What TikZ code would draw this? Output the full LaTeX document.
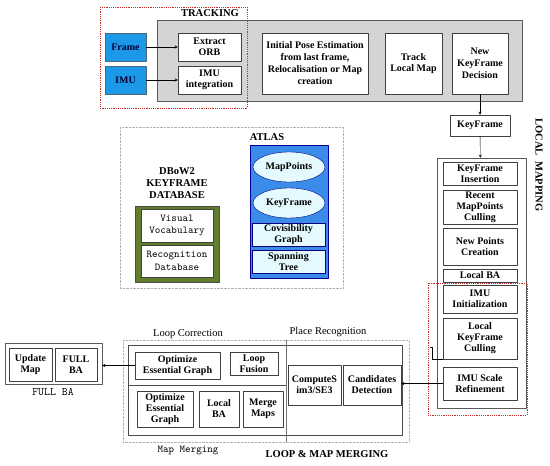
\documentclass[tikz,border=0pt]{standalone}
\usepackage{fontspec}
\setmainfont{Liberation Serif}
\usetikzlibrary{shapes.geometric}
\definecolor{trackgrey}{RGB}{212,212,212}
\definecolor{frameblue}{RGB}{28,152,232}
\definecolor{atlasblue}{RGB}{58,140,232}
\definecolor{mappale}{RGB}{228,250,255}
\definecolor{dbgreen}{RGB}{96,126,44}
\definecolor{dotred}{RGB}{205,45,45}
\tikzset{
  blk/.style={draw=black!75, fill=white, align=center, inner sep=0.5pt,
    font=\fontsize{10}{11}\selectfont\bfseries},
  inputblk/.style={blk, fill=frameblue, draw=black!60!cyan, text=black!80!blue},
  mapell/.style={ellipse, draw=blue!50!black, fill=mappale, inner sep=0pt,
    font=\fontsize{10}{11}\selectfont\bfseries},
  monoblk/.style={blk, font=\fontsize{10.5}{12.5}\selectfont\ttfamily},
  title/.style={font=\fontsize{10.5}{12}\selectfont\bfseries, align=center},
  caption/.style={font=\fontsize{10.5}{12}\selectfont},
  monocap/.style={font=\fontsize{10.5}{12}\selectfont\ttfamily},
  reddots/.style={draw=dotred, line width=1pt, dash pattern=on 1.2pt off 1pt},
  greydots/.style={draw=black!30, densely dotted},
}
\begin{document}
\begin{tikzpicture}[x=1pt, y=-1pt, >=stealth, line join=round]
\useasboundingbox (0,0) rectangle (550,466);

% tracking
\draw[draw=black!65, fill=trackgrey] (157,20) rectangle (522,101);
\draw[reddots] (100,7) rectangle (247,108);
\node[title] (track) at (210,13) {TRACKING};
\node[inputblk, minimum width=41, minimum height=28] (frame) at (125.5,47) {Frame};
\node[inputblk, minimum width=41, minimum height=28] (imu) at (125.5,80) {IMU};
\node[blk, minimum width=63, minimum height=28] (orb) at (209.5,47) {Extract\\ORB};
\node[blk, minimum width=63, minimum height=28] (imuint) at (209.5,80) {IMU\\integration};
\node[blk, minimum width=106, minimum height=61, font=\fontsize{10}{12}\selectfont\bfseries] (pose) at (315,63.5)
  {Initial Pose Estimation\\from last frame,\\Relocalisation or Map\\creation};
\node[blk, minimum width=57, minimum height=61] (tlm) at (413.5,63.5) {Track\\Local Map};
\node[blk, minimum width=56, minimum height=61, font=\fontsize{10}{12}\selectfont\bfseries] (nkd) at (480,63.5) {New\\KeyFrame\\Decision};
\draw[->] (frame) -- (orb);
\draw[->] (imu) -- (imuint);

% local mapping
\node[blk, minimum width=60, minimum height=21] (kf) at (480,125.5) {KeyFrame};
\node[draw=black!65, fill=white, minimum width=89, minimum height=250] (lm) at (481.5,283) {};
\draw[reddots] (428,283) rectangle (527,415);
\node[blk, minimum width=74, minimum height=23] (kfi) at (480,173.5) {KeyFrame\\Insertion};
\node[blk, minimum width=74, minimum height=34] (rmc) at (480,207) {Recent\\MapPoints\\Culling};
\node[blk, minimum width=74, minimum height=37] (npc) at (480,246.5) {New Points\\Creation};
\node[blk, minimum width=74, minimum height=13] (lba) at (480,275.5) {Local BA};
\node[blk, minimum width=74, minimum height=28] (imuinit) at (480,299) {IMU\\Initialization};
\node[blk, minimum width=74, minimum height=41] (lkc) at (480,338.5) {Local\\KeyFrame\\Culling};
\node[blk, minimum width=74, minimum height=33] (isr) at (480,383.5) {IMU Scale\\Refinement};
\node[title, rotate=-90] (lmtitle) at (539,165) {LOCAL\ \ MAPPING};
\draw[->] (nkd) -- (kf);
\draw[->] (kf) -- (lm);
\coordinate (stub) at (430,347);
\draw (stub) -- ++(2,0) |- (lkc.south west);

% atlas
\draw[greydots] (120,127) rectangle (343,288);
\node[title] (atlastitle) at (267,137) {ATLAS};
\draw[draw=blue!60!black, fill=atlasblue] (250,145) rectangle (328,278);
\node[mapell, minimum width=72, minimum height=30] (mp) at (289,167) {MapPoints};
\node[mapell, minimum width=72, minimum height=30] (kfe) at (289,203) {KeyFrame};
\node[blk, fill=mappale, draw=blue!50!black, minimum width=73, minimum height=23] (cov) at (288.5,234.5) {Covisibility\\Graph};
\node[blk, fill=mappale, draw=blue!50!black, minimum width=73, minimum height=23] (span) at (288.5,261.5) {Spanning\\Tree};
\node[title] (dbtitle) at (177,183) {DBoW2\\KEYFRAME\\DATABASE};
\draw[draw=black!70, fill=dbgreen] (135,206) rectangle (219,282);
\node[monoblk, minimum width=72, minimum height=33] (voc) at (177,225.5) {Visual\\Vocabulary};
\node[monoblk, minimum width=72, minimum height=32] (recdb) at (177,261) {Recognition\\Database};

% loop & map merging
\draw[greydots] (123,340) rectangle (409,442);
\draw[draw=black!70] (128,345) rectangle (402,435);
\draw[draw=black!70] (128,385) -- (286,385);
\draw[draw=black!55] (286,340) -- (286,442);
\node[caption] (lctitle) at (188,334) {Loop Correction};
\node[caption] (prtitle) at (328,332) {Place Recognition};
\node[monocap] (mmtitle) at (188,450) {Map Merging};
\node[title] (lmmtitle) at (327,454) {LOOP \& MAP MERGING};
\node[blk, minimum width=85, minimum height=27] (oeg) at (177.5,365.5) {Optimize\\Essential Graph};
\node[blk, minimum width=48, minimum height=23] (lf) at (254,363.5) {Loop\\Fusion};
\node[blk, minimum width=56, minimum height=36] (oegm) at (165,409) {Optimize\\Essential\\Graph};
\node[blk, minimum width=40, minimum height=36] (lbam) at (219,409) {Local\\BA};
\node[blk, minimum width=40, minimum height=36] (mm) at (263,409) {Merge\\Maps};
\node[blk, minimum width=53, minimum height=40] (csim) at (314.5,385) {ComputeS\\im3/SE3};
\node[blk, minimum width=58, minimum height=40] (cand) at (372,385) {Candidates\\Detection};
\draw[->] (isr.west) -- (isr.west -| cand.east);

% full BA
\node[draw=black!65, fill=white, minimum width=97, minimum height=41] (fullba) at (53.5,363.5) {};
\node[blk, minimum width=43, minimum height=33] (um) at (30.5,364.5) {Update\\Map};
\node[blk, minimum width=42, minimum height=33] (fba) at (76,364.5) {FULL\\BA};
\node[monocap, font=\fontsize{11.5}{13}\selectfont\ttfamily] (fbatitle) at (53,392) {FULL BA};
\draw[->] (oeg.west) -- (oeg.west -| fullba.east);
\end{tikzpicture}
\end{document}
